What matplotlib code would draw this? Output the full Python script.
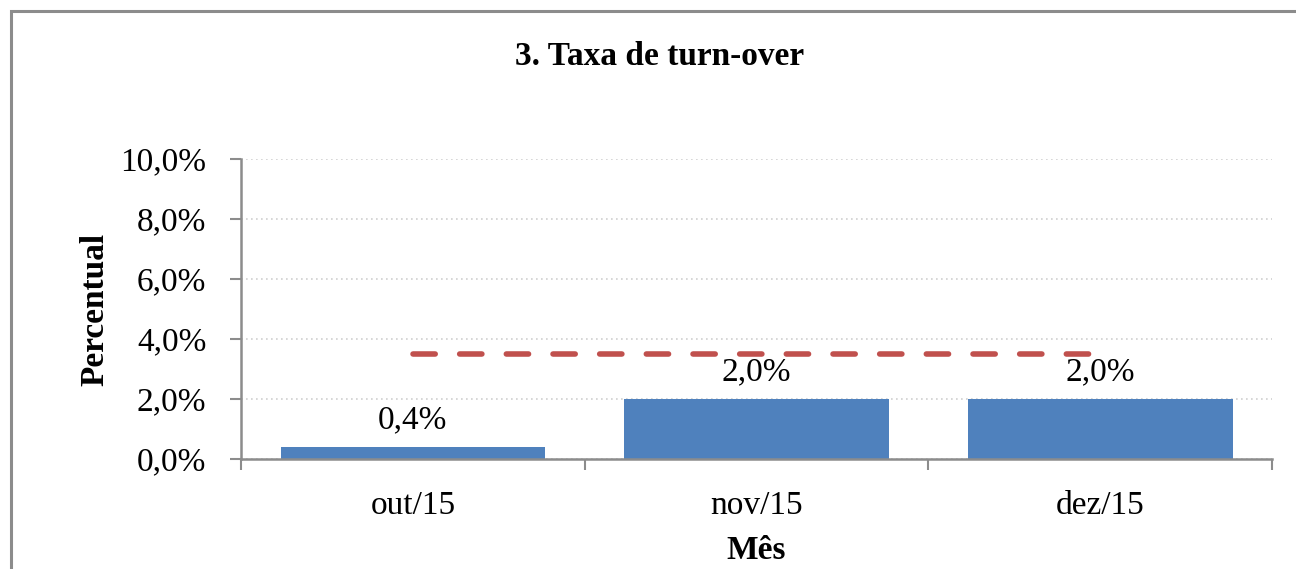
import matplotlib.pyplot as plt
import numpy as np
from matplotlib.patches import Rectangle
from matplotlib.ticker import FuncFormatter

months = ['out/15', 'nov/15', 'dez/15']
taxa = [0.4, 2.0, 2.0]
meta = [3.5, 3.5, 3.5]
yticks = [0, 2, 4, 6, 8, 10]

plt.rcParams['font.family'] = ['Liberation Serif', 'DejaVu Serif']

fig = plt.figure(figsize=(12.96, 5.69), dpi=100)
ax = fig.add_axes([0.186, 0.1933, 0.7955, 0.5273])

# chart-area border (cut off at right/bottom like the source)
fig.patches.append(Rectangle((11 / 1296, -0.1), 1.2, 1 - 11 / 569 + 0.1,
                             transform=fig.transFigure, fill=False,
                             edgecolor='#8c8c8c', linewidth=2.2))

x = np.arange(len(months))
ax.bar(x, taxa, width=0.77, color='#4F81BD', zorder=2)
ax.plot(x, meta, color='#C0504D', linestyle=(0, (4.0, 4.4)),
        linewidth=4.0, dash_capstyle='round', zorder=3)

for xi, v in zip(x, taxa):
    ax.text(xi, v + 0.38, f'{v:.1f}%'.replace('.', ','), ha='center',
            va='bottom', fontsize=24)

ax.set_xlim(-0.5, len(months) - 0.5)
ax.set_ylim(0, 10)
ax.set_yticks(yticks)
ax.yaxis.set_major_formatter(FuncFormatter(lambda v, p: f'{v:.1f}%'.replace('.', ',')))
ax.set_xticks(x)
ax.set_xticklabels(months)
ax.set_xticks(np.arange(len(months) + 1) - 0.5, minor=True)
ax.tick_params(axis='x', which='major', length=0, labelsize=24, pad=23)
ax.tick_params(axis='x', which='minor', length=8, width=1.5, color='#8c8c8c')
ax.tick_params(axis='y', length=8, width=1.5, color='#8c8c8c', labelsize=24, pad=17)

ax.grid(axis='y', color='#d0d0d0', linestyle=(0, (1, 2)), linewidth=1.2, zorder=0)
ax.set_axisbelow(True)
for s in ['top', 'right']:
    ax.spines[s].set_visible(False)
for s in ['left', 'bottom']:
    ax.spines[s].set_color('#8c8c8c')
    ax.spines[s].set_linewidth(1.8)

ax.set_ylabel('Percentual', fontsize=24, fontweight='bold', labelpad=7)
ax.set_xlabel('Mês', fontsize=24, fontweight='bold', labelpad=10)
fig.text(0.509, 0.9, '3. Taxa de turn-over', ha='center', va='center',
         fontsize=24, fontweight='bold')

fig.savefig('out.png', dpi=100)
